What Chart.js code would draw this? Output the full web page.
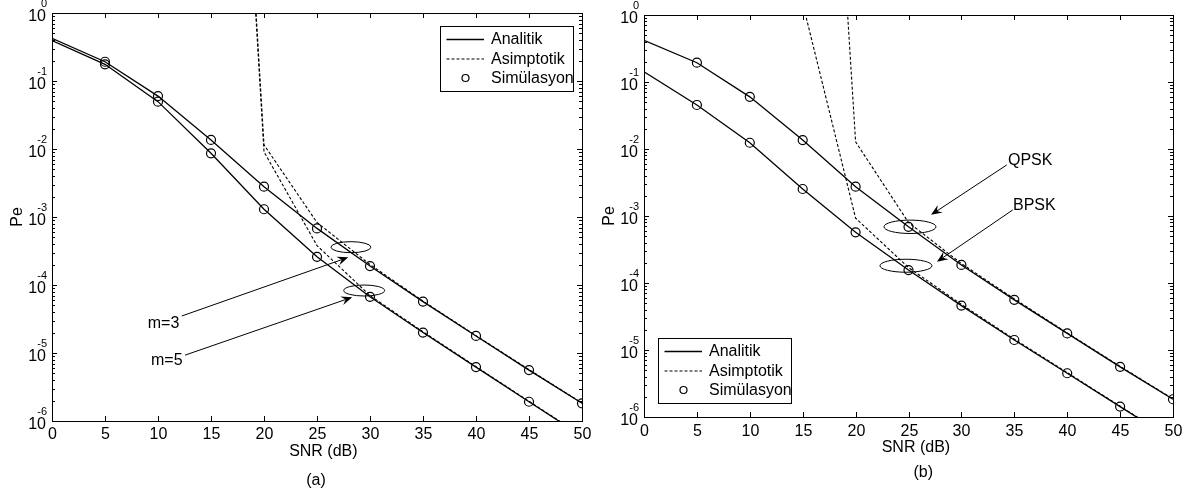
<!DOCTYPE html>
<html>
<head>
<meta charset="utf-8">
<script src="https://cdn.jsdelivr.net/npm/chart.js@4.4.0/dist/chart.umd.min.js"></script>
<style>
    html, body { margin: 0; padding: 0; background: #fff; }
    #wrap { position: relative; width: 1191px; height: 495px; }
    .panel { position: absolute; top: 0; height: 495px; }
    #pa { left: 0; width: 595px; }
    #pb { left: 595px; width: 596px; }
</style>
</head>
<body>
<div id="wrap">
    <div class="panel" id="pa"><canvas id="chartA"></canvas></div>
    <div class="panel" id="pb"><canvas id="chartB"></canvas></div>
</div>
<script>
// ── data ──────────────────────────────────────────────────────────────
const snr = [0, 5, 10, 15, 20, 25, 30, 35, 40, 45, 50];
const xTicks = [0, 5, 10, 15, 20, 25, 30, 35, 40, 45, 50];
const yExponents = [0, -1, -2, -3, -4, -5, -6];

// (a) m=3 / m=5
const analitikM3   = [0.424, 0.192, 0.060, 0.0136, 0.00279, 6.8e-4, 1.9e-4, 5.7e-5, 1.78e-5, 5.6e-6, 1.82e-6];
const analitikM5   = [0.392, 0.176, 0.0497, 0.00865, 0.0013, 2.6e-4, 6.7e-5, 2.0e-5, 6.2e-6, 1.92e-6, 6.0e-7];
const asimptotikM3 = [null, null, null, 1e11, 0.0115, 8.3e-4, 2.0e-4, 5.8e-5, 1.8e-5, 5.7e-6, 1.84e-6];
const asimptotikM5 = [null, null, null, 1e11, 0.0091, 3.8e-4, 7.0e-5, 2.05e-5, 6.3e-6, 1.95e-6, 6.1e-7];
const simM3        = [null, 0.192, 0.060, 0.0136, 0.00279, 6.8e-4, 1.9e-4, 5.7e-5, 1.78e-5, 5.6e-6, 1.82e-6];
const simM5        = [null, 0.176, 0.0497, 0.00865, 0.0013, 2.6e-4, 6.7e-5, 2.0e-5, 6.2e-6, 1.92e-6, null];

// (b) QPSK / BPSK
const analitikQPSK   = [0.42, 0.194, 0.060, 0.0136, 0.00274, 6.9e-4, 1.86e-4, 5.6e-5, 1.77e-5, 5.6e-6, 1.84e-6];
const analitikBPSK   = [0.1425, 0.0454, 0.0124, 0.00253, 5.7e-4, 1.56e-4, 4.6e-5, 1.41e-5, 4.5e-6, 1.43e-6, 4.5e-7];
const asimptotikQPSK = [null, null, null, 5e10, 0.0128, 8.0e-4, 1.95e-4, 5.8e-5, 1.8e-5, 5.7e-6, 1.86e-6];
const asimptotikBPSK = [null, null, null, 1.5, 9.3e-4, 1.7e-4, 4.8e-5, 1.45e-5, 4.6e-6, 1.45e-6, 4.6e-7];
const simQPSK        = [null, 0.194, 0.060, 0.0136, 0.00274, 6.9e-4, 1.86e-4, 5.6e-5, 1.77e-5, 5.6e-6, 1.84e-6];
const simBPSK        = [null, 0.0454, 0.0124, 0.00253, 5.7e-4, 1.56e-4, 4.6e-5, 1.41e-5, 4.5e-6, 1.43e-6, null];

const legendLabels = ['Analitik', 'Asimptotik', 'Simülasyon'];

(function () {
    'use strict';

    const FONT = '"Liberation Sans", Arial, sans-serif';
    const TXT = 16;
    const LW = 1.3;

    function pts(ys) {
        return snr.map(function (x, i) { return { x: x, y: ys[i] }; });
    }

    function analitik(ys) {
        return { data: pts(ys), borderColor: '#000', borderWidth: LW, pointRadius: 0, tension: 0, fill: false };
    }
    function asimptotik(ys) {
        return { data: pts(ys), borderColor: '#000', borderWidth: 1.1, borderDash: [3, 2], pointRadius: 0, tension: 0, fill: false };
    }
    function sim(ys) {
        return {
            data: pts(ys), showLine: false, pointStyle: 'circle', pointRadius: 4.5,
            pointBorderColor: '#000', pointBackgroundColor: 'rgba(0,0,0,0)', pointBorderWidth: 1.2
        };
    }

    // ── MATLAB-like frame, ticks, labels, legend and annotations ──────
    function drawArrow(ctx, x0, y0, x1, y1) {
        const ang = Math.atan2(y1 - y0, x1 - x0);
        const len = 11, half = 4.5, notch = 7;
        ctx.beginPath();
        ctx.moveTo(x0, y0);
        ctx.lineTo(x1 - Math.cos(ang) * notch, y1 - Math.sin(ang) * notch);
        ctx.stroke();
        const bx = x1 - Math.cos(ang) * len, by = y1 - Math.sin(ang) * len;
        const nx = -Math.sin(ang) * half, ny = Math.cos(ang) * half;
        ctx.beginPath();
        ctx.moveTo(x1, y1);
        ctx.lineTo(bx + nx, by + ny);
        ctx.lineTo(x1 - Math.cos(ang) * notch, y1 - Math.sin(ang) * notch);
        ctx.lineTo(bx - nx, by - ny);
        ctx.closePath();
        ctx.fill();
    }

    const framePlugin = {
        id: 'frame',
        afterDraw: function (chart, args, o) {
            const ctx = chart.ctx, a = chart.chartArea;
            const xs = chart.scales.x, ys = chart.scales.y;
            ctx.save();
            ctx.strokeStyle = '#000';
            ctx.fillStyle = '#000';
            ctx.lineWidth = 1;

            // box
            ctx.strokeRect(a.left + 0.5, a.top + 0.5, a.right - a.left, a.bottom - a.top);

            // x ticks + labels
            ctx.font = TXT + 'px ' + FONT;
            ctx.textAlign = 'center';
            ctx.textBaseline = 'alphabetic';
            xTicks.forEach(function (v) {
                const px = Math.round(xs.getPixelForValue(v)) + 0.5;
                ctx.beginPath();
                ctx.moveTo(px, a.bottom); ctx.lineTo(px, a.bottom - 5);
                ctx.moveTo(px, a.top); ctx.lineTo(px, a.top + 5);
                ctx.stroke();
                ctx.fillText(String(v), px, a.bottom + o.xLabelGap);
            });

            // y ticks (major + minor) on both sides
            yExponents.forEach(function (e) {
                const py = Math.round(ys.getPixelForValue(Math.pow(10, e))) + 0.5;
                ctx.beginPath();
                ctx.moveTo(a.left, py); ctx.lineTo(a.left + 5, py);
                ctx.moveTo(a.right, py); ctx.lineTo(a.right - 5, py);
                ctx.stroke();
                if (e < 0) {
                    for (let m = 2; m <= 9; m++) {
                        const my = Math.round(ys.getPixelForValue(m * Math.pow(10, e))) + 0.5;
                        ctx.beginPath();
                        ctx.moveTo(a.left, my); ctx.lineTo(a.left + 3, my);
                        ctx.moveTo(a.right, my); ctx.lineTo(a.right - 3, my);
                        ctx.stroke();
                    }
                }
                ctx.textAlign = 'right';
                ctx.font = TXT + 'px ' + FONT;
                ctx.fillText('10', a.left - 6, py + 7.5);
                ctx.font = '11px ' + FONT;
                ctx.fillText(e === 0 ? '0' : String(e), a.left - 5, py - 6.5);
            });

            // axis titles and caption
            ctx.font = TXT + 'px ' + FONT;
            ctx.textAlign = 'center';
            ctx.fillText('SNR (dB)', xs.getPixelForValue(o.titleX), a.bottom + 35);
            ctx.fillText(o.caption, xs.getPixelForValue(o.captionX), a.bottom + o.captionGap);
            ctx.save();
            ctx.translate(a.left - 30, (a.top + a.bottom) / 2);
            ctx.rotate(-Math.PI / 2);
            ctx.fillText('Pe', 0, 0);
            ctx.restore();

            // annotations
            o.ellipses.forEach(function (el) {
                ctx.beginPath();
                ctx.ellipse(xs.getPixelForValue(el.x), ys.getPixelForValue(el.y), el.rx, el.ry, 0, 0, Math.PI * 2);
                ctx.stroke();
            });
            o.arrows.forEach(function (ar) {
                drawArrow(ctx,
                    xs.getPixelForValue(ar.from[0]), ys.getPixelForValue(ar.from[1]),
                    xs.getPixelForValue(ar.to[0]), ys.getPixelForValue(ar.to[1]));
            });
            ctx.textAlign = 'left';
            o.notes.forEach(function (n) {
                ctx.fillText(n.text, xs.getPixelForValue(n.x), ys.getPixelForValue(n.y));
            });

            // legend box
            const w = 133, h = 65;
            const bx = o.legendRight != null ? a.right - o.legendRight - w : a.left + o.legendLeft;
            const by = o.legendTop != null ? a.top + o.legendTop : a.bottom - o.legendBottom - h;
            ctx.fillStyle = '#fff';
            ctx.fillRect(bx, by, w, h);
            ctx.strokeRect(Math.round(bx) + 0.5, Math.round(by) + 0.5, w, h);
            ctx.fillStyle = '#000';
            const rows = [13, 32.5, 52];
            ctx.lineWidth = LW;
            ctx.beginPath();
            ctx.moveTo(bx + 6.5, by + rows[0] + 0.5); ctx.lineTo(bx + 44, by + rows[0] + 0.5);
            ctx.stroke();
            ctx.lineWidth = 1.1;
            ctx.setLineDash([3, 2]);
            ctx.beginPath();
            ctx.moveTo(bx + 6.5, by + rows[1] + 0.5); ctx.lineTo(bx + 44, by + rows[1] + 0.5);
            ctx.stroke();
            ctx.setLineDash([]);
            ctx.lineWidth = 1.2;
            ctx.beginPath();
            ctx.arc(bx + 25.5, by + rows[2], 3.5, 0, Math.PI * 2);
            ctx.stroke();
            ctx.textAlign = 'left';
            ctx.textBaseline = 'middle';
            legendLabels.forEach(function (t, i) {
                ctx.fillText(t, bx + 51, by + rows[i] + 1);
            });
            ctx.restore();
        }
    };

    function makeChart(id, datasets, frameOpts, pad, xH, yW) {
        return new Chart(document.getElementById(id), {
            type: 'line',
            data: { datasets: datasets },
            options: {
                responsive: true,
                maintainAspectRatio: false,
                animation: false,
                layout: { padding: pad },
                plugins: { legend: { display: false }, tooltip: { enabled: false }, frame: frameOpts },
                scales: {
                    x: {
                        type: 'linear', min: 0, max: 50,
                        grid: { display: false }, border: { display: false }, ticks: { display: false },
                        afterFit: function (s) { s.height = xH; }
                    },
                    y: {
                        type: 'logarithmic', min: 1e-6, max: 1,
                        grid: { display: false }, border: { display: false }, ticks: { display: false },
                        afterFit: function (s) { s.width = yW; }
                    }
                }
            },
            plugins: [framePlugin]
        });
    }

    // ── panel (a) ──
    makeChart('chartA', [
        analitik(analitikM3), analitik(analitikM5),
        asimptotik(asimptotikM3), asimptotik(asimptotikM5),
        sim(simM3), sim(simM5)
    ], {
        xLabelGap: 18, titleX: 25.6, caption: '(a)', captionX: 24.9, captionGap: 64,
        legendRight: 9, legendTop: 13,
        ellipses: [{ x: 28.2, y: 3.6e-4, rx: 20, ry: 5.5 }, { x: 29.45, y: 8.3e-5, rx: 20.5, ry: 5.5 }],
        arrows: [{ from: [12.24, 3.5e-5], to: [27.95, 2.55e-4] }, { from: [12.55, 9.3e-6], to: [28.32, 6.6e-5] }],
        notes: [{ text: 'm=3', x: 9.03, y: 2.34e-5 }, { text: 'm=5', x: 9.34, y: 6.6e-6 }]
    }, { left: 0, top: 13, right: 13, bottom: 0 }, 74, 52);

    // ── panel (b) ──
    makeChart('chartB', [
        analitik(analitikQPSK), analitik(analitikBPSK),
        asimptotik(asimptotikQPSK), asimptotik(asimptotikBPSK),
        sim(simQPSK), sim(simBPSK)
    ], {
        xLabelGap: 19, titleX: 25.7, caption: '(b)', captionX: 26.4, captionGap: 60,
        legendLeft: 14, legendBottom: 14,
        ellipses: [{ x: 25.14, y: 6.9e-4, rx: 26, ry: 6.7 }, { x: 24.76, y: 1.81e-4, rx: 26, ry: 6.5 }],
        arrows: [{ from: [34.28, 5.77e-3], to: [27.13, 1.04e-3] }, { from: [34.85, 1.23e-3], to: [27.69, 2.08e-4] }],
        notes: [{ text: 'QPSK', x: 34.4, y: 5.77e-3 }, { text: 'BPSK', x: 34.88, y: 1.23e-3 }]
    }, { left: 0, top: 15, right: 18, bottom: 0 }, 78, 49);
})();
</script>
</body>
</html>
